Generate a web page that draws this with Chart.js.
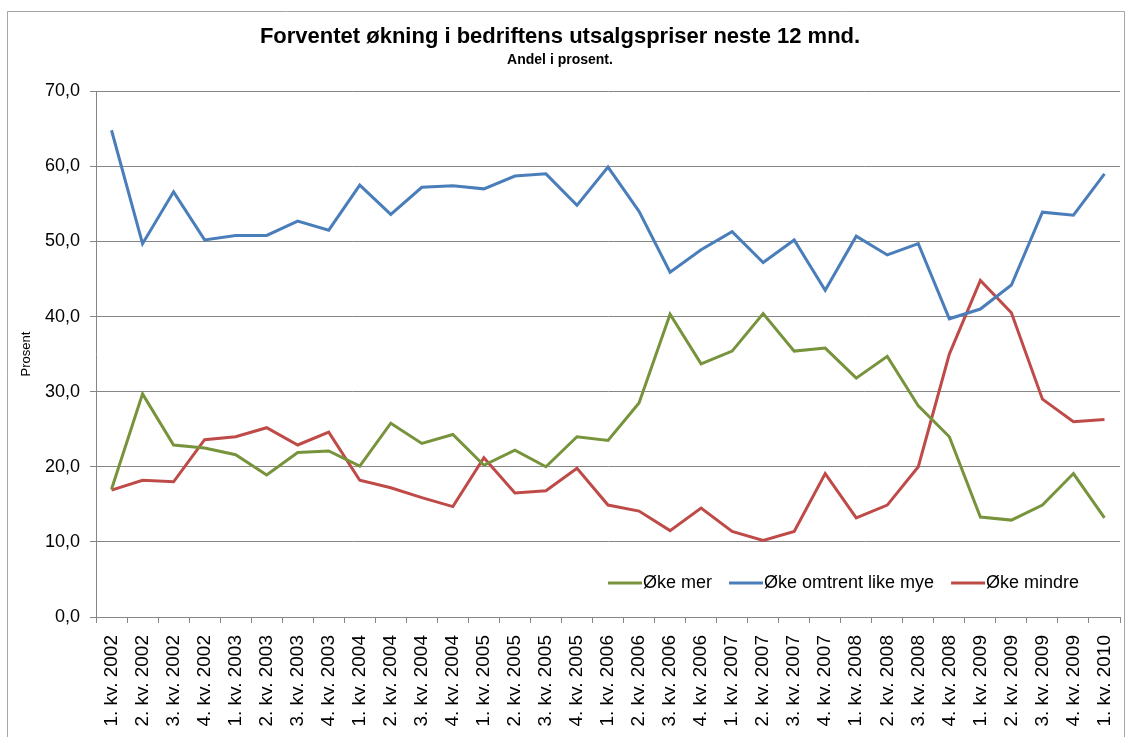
<!DOCTYPE html>
<html lang="no">
<head>
<meta charset="UTF-8" />
<title>Forventet økning i bedriftens utsalgspriser</title>
<script src="https://cdn.jsdelivr.net/npm/chart.js"></script>
<style>
  body { margin: 0; background: #fff; }
  #wrap { width: 1128px; height: 737px; }
</style>
</head>
<body>
<div id="wrap"><canvas id="chart" width="1128" height="737"></canvas></div>
<script>
const quarters = [
  "1. kv. 2002", "2. kv. 2002", "3. kv. 2002", "4. kv. 2002",
  "1. kv. 2003", "2. kv. 2003", "3. kv. 2003", "4. kv. 2003",
  "1. kv. 2004", "2. kv. 2004", "3. kv. 2004", "4. kv. 2004",
  "1. kv. 2005", "2. kv. 2005", "3. kv. 2005", "4. kv. 2005",
  "1. kv. 2006", "2. kv. 2006", "3. kv. 2006", "4. kv. 2006",
  "1. kv. 2007", "2. kv. 2007", "3. kv. 2007", "4. kv. 2007",
  "1. kv. 2008", "2. kv. 2008", "3. kv. 2008", "4. kv. 2008",
  "1. kv. 2009", "2. kv. 2009", "3. kv. 2009", "4. kv. 2009",
  "1. kv. 2010"
];

const okeMer = [
  17.0, 29.7, 22.9, 22.5, 21.6, 18.9, 21.9, 22.1, 20.1, 25.8,
  23.1, 24.3, 20.2, 22.2, 20.0, 24.0, 23.5, 28.5, 40.3, 33.7,
  35.4, 40.4, 35.4, 35.8, 31.8, 34.7, 28.1, 24.0, 13.3, 12.9,
  14.9, 19.1, 13.2
];

const okeLikeMye = [
  64.8, 49.7, 56.6, 50.2, 50.8, 50.8, 52.7, 51.5, 57.5, 53.6,
  57.2, 57.4, 57.0, 58.7, 59.0, 54.8, 59.9, 54.0, 45.9, 48.9,
  51.3, 47.2, 50.2, 43.5, 50.7, 48.2, 49.7, 39.7, 41.0, 44.2,
  53.9, 53.5, 59.0
];

const okeMindre = [
  16.9, 18.2, 18.0, 23.6, 24.0, 25.2, 22.9, 24.6, 18.2, 17.2,
  15.9, 14.7, 21.2, 16.5, 16.8, 19.8, 14.9, 14.1, 11.5, 14.5,
  11.4, 10.2, 11.4, 19.1, 13.2, 14.9, 20.0, 35.0, 44.8, 40.5,
  29.0, 26.0, 26.3
];

const yTicks = [0, 10, 20, 30, 40, 50, 60, 70];

const FONT = "Arial, 'Liberation Sans', sans-serif";
const gridGrey = "#868686";

// ramme rundt hele figuren
const frame = {
  id: "frame",
  beforeDraw(chart) {
    const c = chart.ctx;
    c.save();
    c.strokeStyle = "#a6a6a6";
    c.lineWidth = 1;
    c.beginPath();
    c.moveTo(7.5, 740);
    c.lineTo(7.5, 11.5);
    c.lineTo(1124.5, 11.5);
    c.lineTo(1124.5, 740);
    c.stroke();
    c.restore();
  }
};

// forklaring inne i plottet, som i Excel
const innerLegend = {
  id: "innerLegend",
  afterDraw(chart) {
    const c = chart.ctx;
    c.save();
    c.font = "18px " + FONT;
    c.textBaseline = "middle";
    let x = 608;
    const y = 583;
    chart.data.datasets.forEach(ds => {
      c.strokeStyle = ds.borderColor;
      c.lineWidth = 3;
      c.beginPath();
      c.moveTo(x, y);
      c.lineTo(x + 34, y);
      c.stroke();
      x += 35;
      c.fillStyle = "#000";
      c.fillText(ds.label, x, y);
      x += c.measureText(ds.label).width + 17;
    });
    c.restore();
  }
};

new Chart(document.getElementById("chart"), {
  type: "line",
  data: {
    labels: quarters,
    datasets: [
      { label: "Øke mer", data: okeMer, borderColor: "#77933c" },
      { label: "Øke omtrent like mye", data: okeLikeMye, borderColor: "#4a7ebb" },
      { label: "Øke mindre", data: okeMindre, borderColor: "#be4b48" }
    ]
  },
  options: {
    responsive: false,
    animation: false,
    layout: { padding: { left: 0, right: 8, top: 0, bottom: 0 } },
    elements: {
      line: { borderWidth: 3, tension: 0 },
      point: { radius: 0 }
    },
    plugins: {
      legend: { display: false },
      tooltip: { enabled: false },
      title: {
        display: true,
        text: "Forventet økning i bedriftens utsalgspriser neste 12 mnd.",
        color: "#000",
        font: { family: FONT, size: 22, weight: "bold" },
        padding: { top: 24, bottom: 1 }
      },
      subtitle: {
        display: true,
        text: "Andel i prosent.",
        color: "#000",
        font: { family: FONT, size: 14, weight: "bold" },
        padding: { top: 0, bottom: 23 }
      }
    },
    scales: {
      x: {
        offset: true,
        grid: { offset: true, drawOnChartArea: false, drawTicks: true, tickLength: 6, color: gridGrey },
        border: { color: gridGrey },
        ticks: {
          autoSkip: false, minRotation: 90, maxRotation: 90, color: "#000",
          font: { family: FONT, size: 19 }, padding: 12
        },
        afterFit(scale) {
          scale.height = 120;
          scale.paddingLeft = 0;
          scale.paddingRight = 0;
        }
      },
      y: {
        min: 0,
        max: 70,
        afterBuildTicks(scale) { scale.ticks = yTicks.map(v => ({ value: v })); },
        grid: { color: gridGrey, tickLength: 6 },
        border: { color: gridGrey },
        ticks: {
          color: "#000",
          font: { family: FONT, size: 18 },
          padding: 10,
          callback: v => v.toFixed(1).replace(".", ",")
        },
        title: {
          display: true,
          text: "Prosent",
          color: "#000",
          font: { family: FONT, size: 13 },
          padding: { top: 19, bottom: 0 }
        },
        afterFit(scale) { scale.width = 96; }
      }
    }
  },
  plugins: [frame, innerLegend]
});
</script>
</body>
</html>
